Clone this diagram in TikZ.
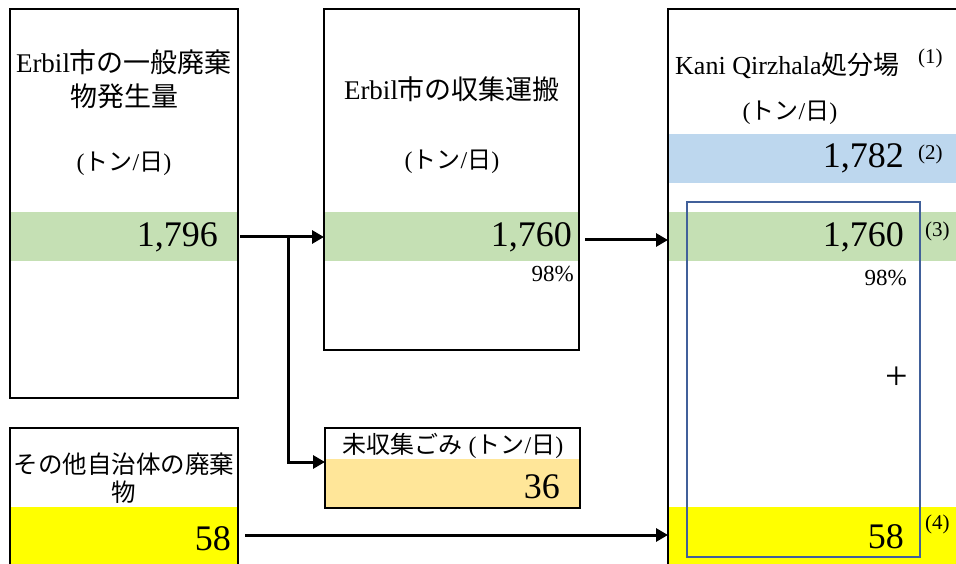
\documentclass[tikz,border=0pt]{standalone}
\usepackage{fontspec}
\setmainfont{Liberation Serif}
\newfontfamily\jp{Noto Sans CJK JP}
\usetikzlibrary{arrows.meta}
\definecolor{bandgreen}{HTML}{C5E0B4}
\definecolor{bandblue}{HTML}{BDD7EE}
\definecolor{bandyellow}{HTML}{FFFF00}
\definecolor{bandorange}{HTML}{FFE699}
\definecolor{frameblue}{HTML}{41609A}
\newcommand\J[1]{{\jp #1}}
\begin{document}
\begin{tikzpicture}[x=1pt,y=-1pt,
  panel/.style={line width=2pt,inner sep=0pt,outer sep=0pt,anchor=north west},
  titletxt/.style={font=\fontsize{27}{34}\selectfont,align=center,inner sep=0pt},
  unittxt/.style={font=\fontsize{24}{28}\selectfont,inner sep=0pt},
  bignum/.style={font=\fontsize{36}{40}\selectfont,inner sep=0pt,anchor=east},
  pct/.style={font=\fontsize{23}{26}\selectfont,inner sep=0pt,anchor=east},
  note/.style={font=\fontsize{21}{24}\selectfont,inner sep=0pt,anchor=west},
  flow/.style={line width=3pt,-{Triangle[length=12pt,width=13pt]}}]
\useasboundingbox (0,0) rectangle (956,564);
% colour bands
\fill[bandgreen] (10,212) rectangle (238,261);
\fill[bandgreen] (324,212) rectangle (579,261);
\fill[bandblue] (668,134) rectangle (960,183);
\fill[bandgreen] (668,212) rectangle (960,261);
\fill[bandyellow] (668,507) rectangle (960,566);
\fill[bandyellow] (10,507) rectangle (238,566);
\fill[bandorange] (325,459) rectangle (580,508);
% panels
\node[panel,draw,minimum width=228pt,minimum height=389pt] (gen) at (10,9) {};
\node[panel,draw,minimum width=255pt,minimum height=341pt] (col) at (324,9) {};
\node[panel,minimum width=300pt,minimum height=555pt] (disp) at (668,9) {};
\draw[line width=2pt] (disp.south west) -- (disp.north west) -- (disp.north east);
\node[panel,minimum width=228pt,minimum height=140pt] (oth) at (10,428) {};
\draw[line width=2pt] (oth.south west) -- (oth.north west) -- (oth.north east) -- (oth.south east);
\node[panel,draw,minimum width=255pt,minimum height=80pt] (unc) at (325,428) {};
% blue frame
\node[draw=frameblue,line width=1.6pt,inner sep=0pt,minimum width=233pt,minimum height=355pt,anchor=north west] (frame) at (686,201) {};
% texts: generation
\node[titletxt] (t1) at (124,79) {Erbil\J{市の一般廃棄}\\\J{物発生量}};
\node[unittxt] (u1) at (124,164) {(\J{トン}/\J{日})};
\node[bignum] (n1) at (218,237) {1,796};
% collection
\node[titletxt] (t2) at (452,89) {Erbil\J{市の収集運搬}};
\node[unittxt] (u2) at (452,162) {(\J{トン}/\J{日})};
\node[bignum] (n2) at (572,237) {1,760};
\node[pct] (p2) at (574,274) {98\%};
% disposal
\node[font=\fontsize{26}{30}\selectfont,inner sep=0pt,anchor=west] (t3) at (675,66) {Kani Qirzhala\J{処分場}};
\node[note] (s1) at (918,58) {(1)};
\node[unittxt] (u3) at (790,113) {(\J{トン}/\J{日})};
\node[bignum] (n3a) at (904,158) {1,782};
\node[note] (s2) at (918,154) {(2)};
\node[bignum] (n3b) at (904,237) {1,760};
\node[note] (s3) at (925,231) {(3)};
\node[pct] (p3) at (907,278) {98\%};
\node[font=\fontsize{40}{42}\selectfont,inner sep=0pt] (plus) at (897,378) {+};
\node[bignum] (n3c) at (904,537) {58};
\node[note] (s4) at (925,524) {(4)};
% other municipalities
\node[titletxt,font=\fontsize{24.5}{28}\selectfont] (t4) at (124,478) {\J{その他自治体の廃棄}\\\J{物}};
\node[bignum] (n4) at (231,539) {58};
% uncollected
\node[unittxt] (t5) at (453,446) {\J{未収集ごみ} (\J{トン}/\J{日})};
\node[bignum] (n5) at (560,487) {36};
% connectors
\coordinate (y1) at (0,237);
\coordinate (y2) at (0,240);
\coordinate (y4) at (0,535);
\coordinate (y5) at (0,462);
\coordinate (br) at (288,237);
\draw[flow] ([xshift=2pt]gen.east |- y1) -- (col.west |- y1);
\draw[flow] (br) |- (unc.west |- y5);
\draw[flow] ([xshift=6pt]col.east |- y2) -- (disp.west |- y2);
\draw[flow] ([xshift=7pt]oth.east |- y4) -- (disp.west |- y4);
\end{tikzpicture}
\end{document}
